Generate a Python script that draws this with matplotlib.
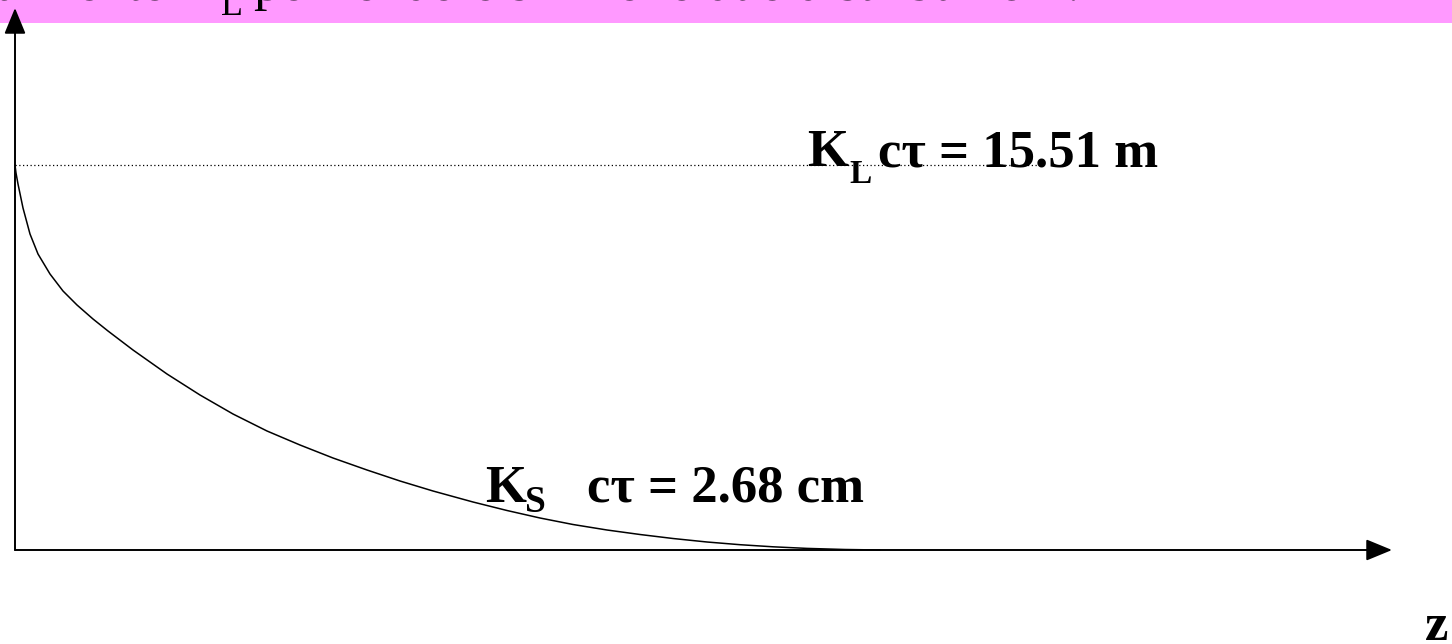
import matplotlib
matplotlib.use("Agg")
import matplotlib.pyplot as plt
from matplotlib.patches import Rectangle

# K_S decay curve, read along z (arbitrary units, origin at the axes corner)
z_short = [0, 1, 3, 8, 15, 23, 35, 48, 62, 78, 93, 118, 152, 185, 218, 252, 285,
           318, 352, 385, 418, 458, 492, 525, 558, 592, 625, 658, 692, 725, 758,
           792, 830, 865]
n_short = [385, 377, 366, 342, 316, 296, 276, 259, 245, 231, 219, 200, 176, 155, 136, 119, 105,
           92, 80, 69, 59, 48, 39.5, 32, 25.5, 20, 15.5, 11.5, 8, 5.3, 3.2,
           1.6, 0.5, 0]

# K_L level: almost flat over the same range
z_long = [0, 1025]
n_long = [385, 385]

label_long = ("K", "L", "c\u03c4 = 15.51 m")
label_short = ("K", "S", "c\u03c4 = 2.68 cm")
axis_label = "z"
banner = ("Si allunga artificialmente K", "L", "per rendere simile le due distribuzioni.")

serif = ["Liberation Serif", "DejaVu Serif"]

fig = plt.figure(figsize=(14.52, 6.44), dpi=100)
ax = fig.add_axes([0, 0, 1, 1])
ax.set_xlim(-15, 1437)
ax.set_ylim(-94, 550)
ax.axis("off")

# pink banner at the top, its text mostly above the page edge
ax.add_patch(Rectangle((-15, 527), 1452, 23, color="#FF99FF", zorder=1, lw=0))
ax.text(203, 550.5, banner[0], ha="right", va="baseline", fontsize=38.5, family=serif, zorder=2)
ax.text(206, 535, banner[1], ha="left", va="baseline", fontsize=26, family=serif, zorder=2)
ax.text(239, 550.5, banner[2], ha="left", va="baseline", fontsize=38.5, family=serif, zorder=2)

# axes with arrow heads
arrow = dict(arrowstyle="-|>,head_length=0.8,head_width=0.33", mutation_scale=20,
             lw=1.4, color="black", shrinkA=0, shrinkB=0)
ax.annotate("", xy=(1377, 0), xytext=(0, 0), arrowprops=arrow, zorder=3)
ax.annotate("", xy=(0, 542), xytext=(0, 0), arrowprops=arrow, zorder=3)

# curves
ax.plot(z_long, n_long, color="black", lw=0.9, linestyle=(0, (1, 2)), zorder=2)
ax.plot(z_short, n_short, color="black", lw=1.1, zorder=2,
        solid_joinstyle="round", solid_capstyle="round")

# labels: particle name with subscript, then the decay length
def sub_label(x, y, parts, dx_sub, dy_sub, dx_rest, sub_size=27):
    ax.text(x, y, parts[0], ha="left", va="baseline", fontsize=38,
            fontweight="bold", family=serif, zorder=4)
    ax.text(x + dx_sub, y - dy_sub, parts[1], ha="left", va="baseline", fontsize=sub_size,
            fontweight="bold", family=serif, zorder=4)
    ax.text(x + dx_rest, y, parts[2], ha="left", va="baseline", fontsize=38,
            fontweight="bold", family=serif, zorder=4)

sub_label(792, 384, label_long, 42, 17, 71, sub_size=24)
sub_label(470, 48, label_short, 40, 10, 102)

ax.text(1410, -90, axis_label, ha="left", va="baseline", fontsize=38,
        fontweight="bold", family=serif)

fig.savefig("out.png", dpi=100)
